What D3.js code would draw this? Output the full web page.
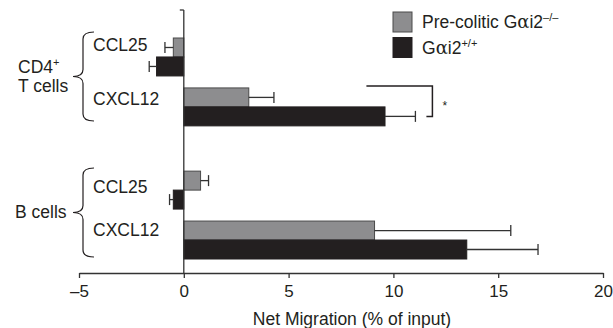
<!DOCTYPE html>
<html>
<head>
<meta charset="utf-8">
<script src="https://cdn.jsdelivr.net/npm/d3@7"></script>
<style>
  body { margin: 0; background: #fff; }
  svg { font-family: "Liberation Sans", Arial, sans-serif; }
</style>
</head>
<body>
<div id="chart"></div>
<script>
// Net migration, horizontal grouped bars with error whiskers
const cellTypes = ["CD4", "B"];
const chemokines = ["CCL25", "CXCL12"];
const genotypes = ["knockout", "wild"];

// order: CD4 CCL25, CD4 CXCL12, B CCL25, B CXCL12
const knockoutMean = [-0.5, 3.1, 0.8, 9.1];
const knockoutErr = [0.4, 1.2, 0.38, 6.5];
const wildMean = [-1.3, 9.6, -0.5, 13.5];
const wildErr = [0.35, 1.45, 0.18, 3.4];

const xTicks = [-5, 0, 5, 10, 15, 20];

const colors = { knockout: "#8d8d8f", wild: "#231f20" };

function renderChart() {
  const width = 613, height = 328;
  const fs = "17.5px";
  const svg = d3.select("#chart").append("svg")
    .attr("width", width)
    .attr("height", height);

  const x = d3.scaleLinear().domain([-5, 20]).range([79, 603]);

  const yOuter = d3.scaleBand().domain(cellTypes).range([38, 259])
    .paddingInner(0.34).paddingOuter(0);
  const yInner = d3.scaleBand().domain(chemokines).range([0, yOuter.bandwidth()])
    .paddingInner(0.24).paddingOuter(0);
  const yGeno = d3.scaleBand().domain(genotypes).range([0, yInner.bandwidth()]);

  const rows = [];
  cellTypes.forEach((c, i) => {
    chemokines.forEach((k, j) => {
      const idx = i * chemokines.length + j;
      rows.push({ cell: c, chem: k, geno: "knockout", mean: knockoutMean[idx], err: knockoutErr[idx] });
      rows.push({ cell: c, chem: k, geno: "wild", mean: wildMean[idx], err: wildErr[idx] });
    });
  });
  const rowY = d => yOuter(d.cell) + yInner(d.chem) + yGeno(d.geno);
  const bh = yGeno.bandwidth();

  // x axis
  const axisY = 273;
  const xAxis = svg.append("g")
    .attr("transform", `translate(0,${axisY})`)
    .call(d3.axisBottom(x)
      .tickValues(xTicks)
      .tickSize(5)
      .tickSizeOuter(0)
      .tickPadding(7)
      .tickFormat(d => d < 0 ? "\u2013" + Math.abs(d) : d));
  xAxis.select(".domain").attr("stroke", "#333").attr("stroke-width", 1.3);
  xAxis.selectAll(".tick line").attr("stroke", "#333").attr("stroke-width", 1.3);
  xAxis.selectAll(".tick text")
    .attr("fill", "#231f20")
    .style("font-size", "17px")
    .style("font-family", "Liberation Sans, Arial, sans-serif");

  svg.append("text")
    .attr("x", 352)
    .attr("y", 325)
    .attr("text-anchor", "middle")
    .attr("fill", "#231f20")
    .style("font-size", fs)
    .text("Net Migration (% of input)");

  // bars
  svg.selectAll("rect.bar")
    .data(rows)
    .join("rect")
    .attr("class", "bar")
    .attr("x", d => x(Math.min(0, d.mean)))
    .attr("y", d => rowY(d))
    .attr("width", d => Math.abs(x(d.mean) - x(0)))
    .attr("height", bh)
    .attr("fill", d => colors[d.geno])
    .attr("stroke", d => d.geno === "knockout" ? "#4a4a4a" : "#231f20")
    .attr("stroke-width", 1);

  // error whiskers
  const whisk = svg.append("g").attr("stroke", "#333").attr("stroke-width", 1.3);
  rows.forEach(d => {
    const end = d.mean < 0 ? d.mean - d.err : d.mean + d.err;
    const cy = rowY(d) + bh / 2;
    whisk.append("line")
      .attr("x1", x(d.mean)).attr("x2", x(end))
      .attr("y1", cy).attr("y2", cy);
    whisk.append("line")
      .attr("x1", x(end)).attr("x2", x(end))
      .attr("y1", cy - 5.5).attr("y2", cy + 5.5);
  });

  // y axis (zero line)
  const yAx = svg.append("g").attr("stroke", "#333").attr("stroke-width", 1.3);
  yAx.append("line")
    .attr("x1", x(0)).attr("x2", x(0))
    .attr("y1", 10).attr("y2", axisY);
  yAx.append("line")
    .attr("x1", x(0) - 4).attr("x2", x(0))
    .attr("y1", 10).attr("y2", 10);

  // chemokine labels
  const labelDy = { CD4: { CCL25: 13, CXCL12: 17 }, B: { CCL25: 22, CXCL12: 15 } };
  cellTypes.forEach(c => {
    chemokines.forEach(k => {
      svg.append("text")
        .attr("x", 93)
        .attr("y", yOuter(c) + yInner(k) + labelDy[c][k])
        .attr("fill", "#231f20")
        .style("font-size", fs)
        .text(k);
    });
  });

  // braces
  function bracePath(top, bottom, xEnd, xSpine, xTip) {
    const mid = (top + bottom) / 2;
    const r = 7;
    return `M${xEnd},${top} Q${xSpine},${top} ${xSpine},${top + r}` +
      ` L${xSpine},${mid - r} Q${xSpine},${mid} ${xTip},${mid}` +
      ` Q${xSpine},${mid} ${xSpine},${mid + r}` +
      ` L${xSpine},${bottom - r} Q${xSpine},${bottom} ${xEnd},${bottom}`;
  }
  const braceSpan = { CD4: [32, 121], B: [168, 257] };
  cellTypes.forEach(c => {
    svg.append("path")
      .attr("d", bracePath(braceSpan[c][0], braceSpan[c][1], 94, 83, 73))
      .attr("fill", "none")
      .attr("stroke", "#231f20")
      .attr("stroke-width", 1.2);
  });

  // cell type labels
  const cd4 = svg.append("text")
    .attr("x", 18).attr("y", 73)
    .attr("fill", "#231f20")
    .style("font-size", fs);
  cd4.append("tspan").text("CD4");
  cd4.append("tspan").attr("dy", -7).style("font-size", "11px").text("+");
  svg.append("text")
    .attr("x", 18).attr("y", 92)
    .attr("fill", "#231f20")
    .style("font-size", fs)
    .text("T cells");
  svg.append("text")
    .attr("x", 15).attr("y", 218)
    .attr("fill", "#231f20")
    .style("font-size", fs)
    .text("B cells");

  // significance bracket
  const sigTop = yOuter("CD4") + yInner("CXCL12") - 2;
  const sigBottom = yOuter("CD4") + yInner("CXCL12") + yGeno("wild") + bh / 2;
  const sigRight = x(wildMean[1] + wildErr[1]) + 17;
  const sigLeft = sigRight - 66;
  svg.append("path")
    .attr("d", `M${sigLeft},${sigTop} H${sigRight} V${sigBottom} H${sigRight - 6}`)
    .attr("fill", "none")
    .attr("stroke", "#231f20")
    .attr("stroke-width", 1.5);
  svg.append("text")
    .attr("x", sigRight + 10)
    .attr("y", sigTop + 24)
    .attr("fill", "#231f20")
    .style("font-size", "12px")
    .text("*");

  // legend
  const legend = svg.append("g").attr("transform", "translate(393,12)");
  const legendLabels = [
    { geno: "knockout", base: "Pre-colitic G", sup: "\u2013/\u2013" },
    { geno: "wild", base: "G", sup: "+/+" }
  ];
  legendLabels.forEach((l, i) => {
    const g = legend.append("g").attr("transform", `translate(0,${i * 25.5})`);
    g.append("rect")
      .attr("width", 19).attr("height", 20)
      .attr("fill", colors[l.geno])
      .attr("stroke", l.geno === "knockout" ? "#4a4a4a" : "#231f20");
    const t = g.append("text")
      .attr("x", 29).attr("y", 16)
      .attr("fill", "#231f20")
      .style("font-size", fs);
    t.append("tspan").text(l.base);
    t.append("tspan").style("font-family", "DejaVu Serif, serif").style("font-size", "18px").text("\u03b1");
    t.append("tspan").text("i2");
    t.append("tspan").attr("dy", -7).style("font-size", "11px").text(l.sup);
  });
}

document.addEventListener("DOMContentLoaded", renderChart);
</script>
</body>
</html>
